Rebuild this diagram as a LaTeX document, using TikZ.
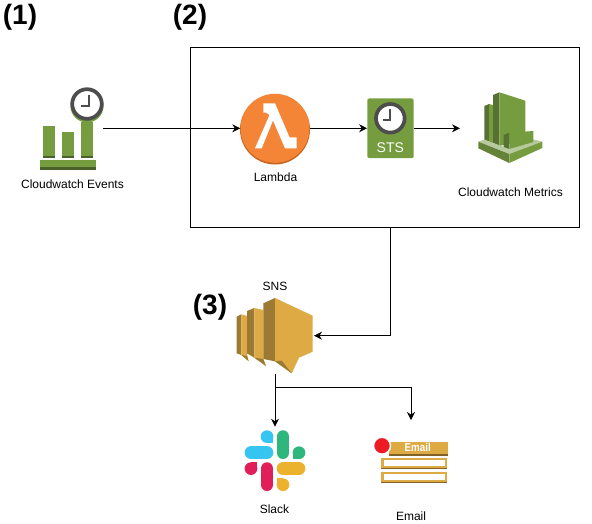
\documentclass[tikz,border=0pt]{standalone}
\usepackage{fontspec}
\setmainfont{Liberation Sans}
\usetikzlibrary{arrows.meta,positioning}
\definecolor{vert}{HTML}{759C3E}
\definecolor{vertfonce}{HTML}{4B612C}
\definecolor{vertsombre}{HTML}{567132}
\definecolor{vertclair}{HTML}{B7CA9D}
\definecolor{vertmoyen}{HTML}{648339}
\definecolor{orange1}{HTML}{F58536}
\definecolor{orange2}{HTML}{C7651F}
\definecolor{gris}{HTML}{4D4D4D}
\definecolor{or}{HTML}{DDAA44}
\definecolor{orfonce}{HTML}{9D7A33}
\definecolor{orombre}{HTML}{826227}
\definecolor{bleuS}{HTML}{36C5F0}
\definecolor{vertS}{HTML}{2EB67D}
\definecolor{rougeS}{HTML}{E01E5A}
\definecolor{jauneS}{HTML}{ECB22E}
\tikzstyle{fleche} = [-{Stealth[length=8pt,width=8pt]},line width=0.8pt,rounded corners=0pt]
\tikzstyle{etiquette} = [font=\fontsize{12}{14}\selectfont,inner sep=0pt]
\tikzstyle{numero} = [font=\fontsize{28}{32}\selectfont\bfseries,inner sep=0pt]
\tikzstyle{pilule} = [line width=12.7pt,line cap=round]
\tikzstyle{cadran} = [draw=gris,line width=3.7pt,fill=white]
\tikzstyle{aiguille} = [draw=gris,line width=2.2pt]
\begin{document}
\begin{tikzpicture}[x=1pt,y=-1pt]

	\useasboundingbox (0,0) rectangle (592,523);

	\node[numero] (num1) at (20,17) {(1)};
	\node[numero] (num2) at (190,17) {(2)};
	\node[numero] (num3) at (210,307) {(3)};

	\node[draw,line width=0.8pt,minimum width=389pt,minimum height=180pt] (fonction) at (384.5,137) {};

	% Cloudwatch Events
	\fill[vert] (42.7,126) rectangle (54.7,158);
	\fill[vert] (62,131.7) rectangle (74,158);
	\fill[vert] (81,122) rectangle (93.3,158);
	\fill[vertfonce] (42.7,155.5) rectangle (54.7,158);
	\fill[vertfonce] (62,155.5) rectangle (74,158);
	\fill[vertfonce] (81,155.5) rectangle (93.3,158);
	\fill[vert] (40,160) rectangle (95.7,167);
	\fill[vertfonce] (40,167) rectangle (95.7,170);
	\fill[vert] (87,106) circle (16.5);
	\draw[cadran] (87,104) circle (14.8);
	\draw[aiguille] (89.3,95) -- (89.3,105.7) -- (81,105.7);
	\node[etiquette] (events) at (72.5,184) {Cloudwatch Events};
	\coordinate (eventsout) at (103,128.3);

	% Lambda
	\fill[orange2] (275,129.5) circle (35);
	\node[circle,fill=orange1,inner sep=0pt,minimum size=69pt] (lambda) at (275,128.3) {};
	\fill[white] (263.3,103.3) -- (275,103.3) -- (289.5,137.3) -- (296.7,137.3) -- (296.7,148.3)
		-- (285,148.3) -- (273,120.5) -- (261.7,148.3) -- (255,148.3) -- (269.5,115) -- (266,112.5) -- (263.3,112.5) -- cycle;
	\node[etiquette] (lambdatxt) at (275.5,177) {Lambda};

	% STS
	\node[rectangle,rounded corners=2pt,fill=vert,minimum width=46.4pt,minimum height=59.7pt,inner sep=0pt] (sts) at (390.5,128.3) {};
	\draw[cadran] (390.3,118.3) circle (14.3);
	\draw[aiguille] (390,109.3) -- (390,120) -- (382.7,120);
	\node[font=\fontsize{14}{16}\selectfont,text=white,inner sep=0pt] (ststxt) at (390.3,148) {STS};

	% Cloudwatch Metrics
	\fill[vertsombre] (484.3,106) -- (489,104) -- (489,143) -- (484.3,143) -- cycle;
	\fill[vert] (489,104) -- (493,105) -- (493,143) -- (489,143) -- cycle;
	\fill[vertsombre] (493,95) -- (499.3,92.3) -- (499.3,146) -- (493,143) -- cycle;
	\fill[vert] (499.3,92.3) -- (525.3,100.7) -- (525.3,140) -- (499.3,146) -- cycle;
	\fill[vertclair] (478.3,141.7) -- (484.3,139.5) -- (509.3,149) -- (534,139.5) -- (542.3,141.7) -- (509.3,154) -- cycle;
	\fill[vertsombre] (503.7,135) -- (509.3,132.7) -- (509.3,149) -- (503.7,147) -- cycle;
	\fill[vert] (509.3,132.7) -- (533.3,131) -- (533.3,142) -- (509.3,149) -- cycle;
	\fill[vertmoyen] (478.3,141.7) -- (509.3,154) -- (509.3,163) -- (478.3,148.3) -- cycle;
	\fill[vert] (509.3,154) -- (542.3,141.7) -- (542.3,148) -- (509.3,163) -- cycle;
	\node[etiquette] (metrics) at (510.5,192) {Cloudwatch Metrics};
	\coordinate (metricsin) at (460,128.3);

	% SNS
	\fill[orfonce] (236.7,316.7) -- (241.3,314.3) -- (241.3,355) -- (236.7,353.3) -- cycle;
	\fill[or] (241.3,314.3) -- (247,316) -- (247,353.3) -- (248.5,361) -- (241.3,355) -- cycle;
	\fill[orfonce] (241.3,355) -- (247,356) -- (248.5,361) -- cycle;
	\fill[orfonce] (247,311) -- (254.3,308) -- (254.3,357.7) -- (247,353.3) -- cycle;
	\fill[or] (254.3,308) -- (263.3,310) -- (263.3,359) -- (266,366) -- (254.3,357.7) -- cycle;
	\fill[orfonce] (254.3,357.7) -- (263.3,359) -- (266,366) -- cycle;
	\fill[orfonce] (263.3,303.3) -- (275,298) -- (275,361.3) -- (263.3,359) -- cycle;
	\fill[or] (275,298) -- (312.7,315.7) -- (312.7,351.7) -- (299,357.7) -- (291.7,373.3) -- (275,361.3) -- cycle;
	\fill[orfonce] (275,361.3) -- (281.7,360.7) -- (291.7,373.3) -- cycle;
	\node[etiquette] (sns) at (275,286) {SNS};
	\coordinate (snsin) at (314,335.7);
	\coordinate (snsout) at (275,374);
	\coordinate (fonctionout) at (390,227);
	\coordinate (branche) at (275,387.3);

	% Slack
	\draw[pilule,bleuS] (251,452.7) -- (267,452.7);
	\fill[bleuS] (267,436.6) circle (6.35);
	\fill[bleuS] (267,436.6) rectangle (273.3,443);
	\draw[pilule,vertS] (283,436.6) -- (283,452.7);
	\fill[vertS] (299,452.7) circle (6.35);
	\fill[vertS] (292.7,452.7) rectangle (299,459);
	\draw[pilule,rougeS] (267,468.6) -- (267,484.7);
	\fill[rougeS] (251,468.6) circle (6.35);
	\fill[rougeS] (251,462.3) rectangle (257.3,468.6);
	\draw[pilule,jauneS] (283,468.6) -- (299,468.6);
	\fill[jauneS] (283,484.7) circle (6.35);
	\fill[jauneS] (276.7,478.3) rectangle (283,484.7);
	\node[etiquette] (slack) at (274.5,509) {Slack};
	\coordinate (slackin) at (275,426.7);

	% Email
	\fill[or] (389,441.7) rectangle (447.7,454);
	\fill[orombre] (389,454) rectangle (447.7,455.7);
	\fill[or] (380.7,457.7) rectangle (447.3,467.7);
	\fill[orombre] (380.7,467.7) rectangle (447.3,469.3);
	\fill[white] (384,460.3) rectangle (445,465.7);
	\fill[or] (380.7,472) rectangle (447.3,481.7);
	\fill[orombre] (380.7,481.7) rectangle (447.3,483.3);
	\fill[white] (384,474.3) rectangle (445,479.7);
	\node[circle,fill={rgb,255:red,237;green,28;blue,36},draw=white,line width=1.5pt,inner sep=0pt,minimum size=17pt] (point) at (382,445.7) {};
	\node[font=\fontsize{11.5}{13}\selectfont\bfseries,text=white,inner sep=0pt,xscale=.85,transform shape] (emailtxt) at (417.7,447.7) {Email};
	\node[etiquette] (email) at (411,516) {Email};
	\coordinate (emailin) at (411,420);

	\draw[fleche] (eventsout) -- (lambda);
	\draw[fleche] (lambda) -- (sts);
	\draw[fleche] (sts) -- (metricsin);
	\draw[fleche] (fonctionout) |- (snsin);
	\draw[fleche] (snsout) -- (slackin);
	\draw[fleche] (branche) -| (emailin);

\end{tikzpicture}
\end{document}
